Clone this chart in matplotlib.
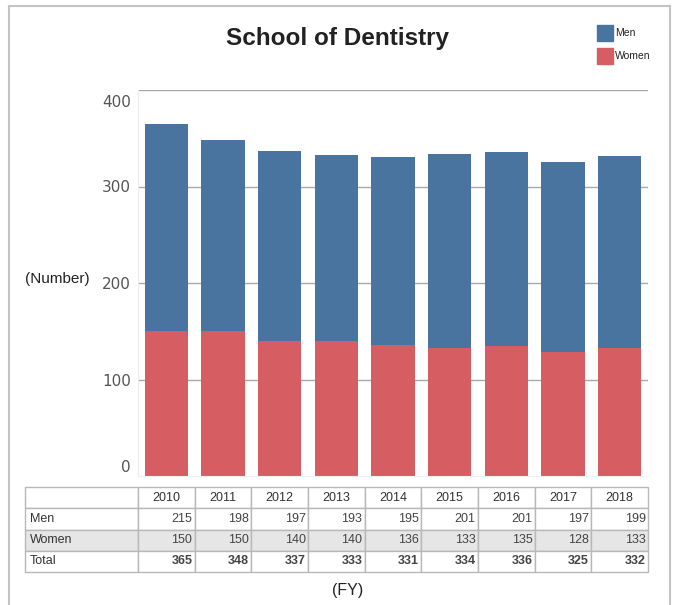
import matplotlib.pyplot as plt
import matplotlib.transforms as mtransforms
from matplotlib.lines import Line2D

years = ['2010', '2011', '2012', '2013', '2014', '2015', '2016', '2017', '2018']
men = [215, 198, 197, 193, 195, 201, 201, 197, 199]
women = [150, 150, 140, 140, 136, 133, 135, 128, 133]
total = [365, 348, 337, 333, 331, 334, 336, 325, 332]

blue = '#4a74a0'
red = '#d65e62'
W, H = 673, 605

fig = plt.figure(figsize=(W / 100, H / 100), dpi=100)
plt.rcParams['font.family'] = ['Liberation Sans', 'DejaVu Sans']

# outer frame (open at the bottom)
fig.add_artist(Line2D([9 / W, 9 / W], [0, 1 - 6 / H], color='#c4c4c4', lw=1.5))
fig.add_artist(Line2D([9 / W, 670 / W], [1 - 6 / H, 1 - 6 / H], color='#c4c4c4', lw=1.5))
fig.add_artist(Line2D([670 / W, 670 / W], [0, 1 - 6 / H], color='#c4c4c4', lw=1.5))

ax = fig.add_axes([138 / W, 1 - 476 / H, 510 / W, 386 / H])
x = range(len(years))
ax.bar(x, women, width=0.76, color=red, zorder=2)
ax.bar(x, men, width=0.76, bottom=women, color=blue, zorder=2)
ax.set_xlim(-0.5, len(years) - 0.5)
ax.set_ylim(0, 400)
ax.set_yticks([0, 100, 200, 300, 400])
ax.set_xticks([])
ax.grid(axis='y', color='#a8a8a8', lw=1, zorder=1)
ax.get_ygridlines()[0].set_visible(False)
for s in ['top', 'right']:
    ax.spines[s].set_visible(False)
ax.spines['left'].set_color('#ececec')
ax.spines['bottom'].set_color('#f0f0f0')
ax.tick_params(axis='y', labelcolor='#555555', labelsize=11, length=0, pad=5)
labels = ax.get_yticklabels()
for lbl in labels:
    lbl.set_family('DejaVu Sans')
labels[0].set_transform(labels[0].get_transform() +
                        mtransforms.ScaledTranslation(0, 10 / 100, fig.dpi_scale_trans))
labels[-1].set_transform(labels[-1].get_transform() +
                         mtransforms.ScaledTranslation(0, -11 / 100, fig.dpi_scale_trans))

fig.text(57 / W, 1 - 279 / H, '(Number)', ha='center', va='center', fontsize=11, color='#222222')
fig.text(337 / W, 1 - 38 / H, 'School of Dentistry', ha='center', va='center',
         fontsize=17.5, fontweight='bold', color='#222222')
fig.text(348 / W, 1 - 591 / H, '(FY)', ha='center', va='center', fontsize=11.5, color='#222222')

# legend
for i, (name, c) in enumerate([('Men', blue), ('Women', red)]):
    yc = 33 + i * 23
    fig.patches.append(plt.Rectangle((597 / W, 1 - (yc + 8) / H), 16 / W, 16 / H,
                                     transform=fig.transFigure, color=c))
    fig.text(615 / W, 1 - yc / H, name, ha='left', va='center', fontsize=7.5, color='#222222')

# data table
tax = fig.add_axes([25 / W, 1 - 572 / H, 623 / W, 85 / H])
tax.axis('off')
cells = [[''] + years,
         ['Men'] + [str(v) for v in men],
         ['Women'] + [str(v) for v in women],
         ['Total'] + [str(v) for v in total]]
colw = [113 / 623] + [510 / 9 / 623] * 9
tbl = tax.table(cellText=cells, colWidths=colw, bbox=[0, 0, 1, 1])
tbl.auto_set_font_size(False)
for (r, c), cell in tbl.get_celld().items():
    cell.set_edgecolor('#b8b8b8')
    cell.set_linewidth(1)
    cell.set_fontsize(9)
    t = cell.get_text()
    t.set_color('#333333' if c == 0 or r == 0 else '#444444')
    if r == 0:
        cell._loc = 'center'
        t.set_ha('center')
    elif c == 0:
        cell._loc = 'left'
        t.set_ha('left')
    else:
        cell._loc = 'right'
        t.set_ha('right')
        if r == 3:
            t.set_fontweight('bold')
    cell.PAD = 0.04
    if r == 2:
        cell.set_facecolor('#e6e6e6')

fig.savefig('out.png', dpi=100)
